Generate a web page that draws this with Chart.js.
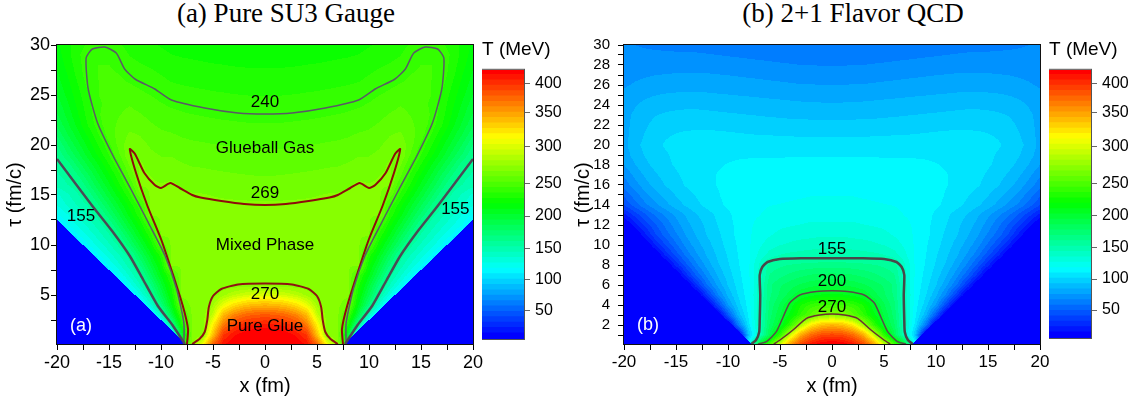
<!DOCTYPE html>
<html>
<head>
<meta charset="utf-8">
<script src="https://cdn.jsdelivr.net/npm/chart.js@4.4.0/dist/chart.umd.min.js"></script>
<style>
  body { margin: 0; background: #fff; width: 1140px; height: 405px; position: relative; overflow: hidden; }
  canvas { position: absolute; top: 0; }
  .ttl { position: absolute; top: -2px; font-family: "Liberation Serif", "Times New Roman", serif; font-size: 27px; white-space: nowrap; transform: translateX(-50%); color: #000; }
</style>
</head>
<body>
<div class="ttl" style="left:286px">(a) Pure SU3 Gauge</div>
<div class="ttl" style="left:853px">(b) 2+1 Flavor QCD</div>
<canvas id="heatA" width="490" height="405" style="left:0px"></canvas>
<canvas id="barA" width="90" height="405" style="left:482px"></canvas>
<canvas id="heatB" width="497" height="405" style="left:560px"></canvas>
<canvas id="barB" width="90" height="405" style="left:1049px"></canvas>
<script>
Chart.defaults.font.family = '"Liberation Sans", Arial, sans-serif';
Chart.defaults.color = '#000';

// colour scale: T (MeV) at equal steps of the colour bar
const colorLevels = [5, 59, 113, 166, 218, 270, 312, 365, 425];
const bandCount = 50;
const cbarTicks = [50, 100, 150, 200, 250, 300, 350, 400];

const xMajor = [-20, -15, -10, -5, 0, 5, 10, 15, 20];
const yMajorA = [5, 10, 15, 20, 25, 30];
const yMajorB = [2, 4, 6, 8, 10, 12, 14, 16, 18, 20, 22, 24, 26, 28, 30];

// light cone start |x| (fm) at tau = 0
const coneA = 7.5;
const coneB = 7.6;

// T (MeV) on a grid: rows tau = 0..30 fm/c, columns |x| = 0..20 fm
const tempA = [
  [432,431,429,425,415,378,310,272,230,100,0,0,0,0,0,0,0,0,0,0,0],
  [428,427,423,414,396,335,270,269.5,200,100,0,0,0,0,0,0,0,0,0,0,0],
  [410,408,402,390,365,315,269.5,269.5,226,155,100,0,0,0,0,0,0,0,0,0,0],
  [380,378,372,360,338,292,269.5,269.5,244,191,138,100,0,0,0,0,0,0,0,0,0],
  [340,338,333,322,305,280,269.5,269.5,264,210,169,132,100,0,0,0,0,0,0,0,0],
  [300,298,294,288,280,270,269.5,269.5,269.5,220,186,152,126,100,0,0,0,0,0,0,0],
  [271,271,270.4,269.9,269.5,269.5,269.5,269.5,269.5,229,198,167,143,122,100,0,0,0,0,0,0],
  [269.5,269.5,269.5,269.5,269.5,269.5,269.5,269.5,269.5,240,211,182,154,137,120,100,0,0,0,0,0],
  [269.5,269.5,269.5,269.5,269.5,269.5,269.5,269.5,269.5,269.5,221,195,168,148,133,119,100,0,0,0,0],
  [269.5,269.5,269.5,269.5,269.5,269.5,269.5,269.5,269.5,269.5,231,207,182,156,143,130,117,100,0,0,0],
  [269.5,269.5,269.5,269.5,269.5,269.5,269.5,269.5,269.5,269.5,252,220,197,174,154,141,129,117,100,0,0],
  [269.5,269.5,269.5,269.5,269.5,269.5,269.5,269.5,269.5,269.5,269.5,232,210,188,166,150,139,128,117,100,0],
  [269.5,269.5,269.5,269.5,269.5,269.5,269.5,269.5,269.5,269.5,269.5,245,221,201,180,159,147,137,127,117,100],
  [269.5,269.5,269.5,269.5,269.5,269.5,269.5,269.5,269.5,269.5,269.5,269,232,213,193,174,155,145,135,125,116],
  [269.4,269.4,269.5,269.5,269.5,269.5,269.5,269.5,269.5,269.5,269.5,269.5,240,222,204,186,168,152,144,135,126],
  [265.8,265.8,266.1,266.6,267.1,267.7,268.4,268.7,269.5,269.5,269.5,269.5,257,233,215,198,180,162,150,141,132],
  [262.6,262.6,263,263.4,263.9,264.5,265.1,265.5,267,269.5,268.4,269.5,269.3,243,225,208,191,174,157,151,146],
  [259.4,259.4,259.8,260.2,260.7,261.3,261.9,262.3,263.7,265.9,265.3,267.8,269.5,254,233,217,201,184,168,154,150],
  [256.3,256.3,256.6,257,257.5,258,258.7,259.1,260.4,262.4,262.2,264.6,269.5,261,242,226,210,195,179,163,153],
  [253.1,253.1,253.4,253.8,254.3,254.8,255.5,255.9,257.1,259,259.1,261.5,266.5,268.5,250.5,235,220,205,190,175,160],
  [249.9,249.9,250.2,250.6,251.1,251.6,252.2,252.7,253.8,255.5,256,258.4,262.8,265,255,241,227,213,198,184,167],
  [246.7,246.7,247,247.4,247.8,248.4,249,249.6,250.5,252.1,253,255.3,259.2,261,255,247,234,220,206,192,178],
  [243.5,243.5,243.8,244.2,244.6,245.2,245.8,246.4,247.3,248.6,249.9,252.2,255.6,257,253,248,240,227,213,199,186],
  [240.3,240.3,240.6,241,241.4,241.9,242.6,243.2,244,245.2,246.8,249,252,254,251,248,242,230,217,204,192],
  [237.3,237.3,237.6,237.9,238.4,238.8,239.4,240,241,242,243.7,246,248.3,251,249,246,241.5,232,220,208,196],
  [234.3,234.3,234.6,234.9,235.4,235.8,236.4,237,237.6,238.5,240.6,242.8,244.7,247,247,245,243,234,223,212,201],
  [231.3,231.3,231.6,231.9,232.4,232.8,233.4,234,234.6,235.5,237.6,239.7,241.5,243.5,245,244,243,237,226,215,205],
  [228.3,228.3,228.6,228.9,229.4,229.8,230.4,231,231.6,232.5,234.6,236.7,238.2,240,243,244,243,240.5,229,218,208],
  [225.3,225.3,225.6,225.9,226.4,226.8,227.4,228,228.6,229.5,231.6,233.7,235.2,237.3,241.5,243,243,241,231,221,211],
  [222.3,222.3,222.6,222.9,223.4,223.8,224.4,225,225.6,226.5,228.6,230.7,232.2,234.3,238.8,241.5,241.5,240,233,223,214],
  [219.3,219.3,219.6,219.9,220.4,220.8,221.4,222,222.6,223.5,225.6,227.7,229.2,231.3,235.8,239.4,239,236,231,224,216]
];

const tempB = [
  [432,428,415,390,355,300,251,203,118,0,0,0,0,0,0,0,0,0,0,0,0],
  [390,386,372,345,295,235,186,140,92,0,0,0,0,0,0,0,0,0,0,0,0],
  [340,335,318,282,239,200,177,140,106,61,0,0,0,0,0,0,0,0,0,0,0],
  [272,271,255,236,213,192,173,140,111,86,46,0,0,0,0,0,0,0,0,0,0],
  [244,243,238,226,204,186,170,140,113,96,73,38,0,0,0,0,0,0,0,0,0],
  [212,211,207,201,189,178,166,140,114,101,85,63,33,0,0,0,0,0,0,0,0],
  [193,192,190,186,181,175,166,138,115,104,92,76,57,30,0,0,0,0,0,0,0],
  [179,178,177,174,170,165,160,137,116,106,96,84,69,51,28,0,0,0,0,0,0],
  [164,164,163,162,160,158,155,135,116,108,99,90,78,64,46,25,0,0,0,0,0],
  [148,148,147,146,145,143,138,128,116,109,101,93,84,73,60,43,24,0,0,0,0],
  [140,140,139,138,136,134,130,124,116,110,103,96,88,79,69,55,40,22,0,0,0],
  [133,133,132,131,130,128,125,121,116,111,105,98,92,84,75,64,52,38,19,0,0],
  [127,127,127,126,125,124,122,119,116,111,106,100,94,87,80,70,59,47,33,17,0],
  [123,123,123,122,121,120,119,117,116,112,107,102,96,91,84,76,67,58,46,33,19],
  [119,119,119,118.5,118,117.5,117,116,115,113,110,107,103,98,93,87,80,72,63,52,40],
  [117,117,117,116.5,116,115.5,115,114.5,114,113,111,108,105,101,97,92,86,79,71,61,50],
  [115,115,115,115,114.5,114.5,114,113.5,113,112,111,109,107,104,101,97,92,86,79,70,60],
  [113,113,113,113,112.5,112.5,112,112,111.5,111,110,109,107,105,102,99,95,90,84,76,67],
  [111,111,111,111,111,110.5,110.5,110,110,109.5,109,108,107,105,103,101,98,94,89,82,74],
  [108,108,108,108,108,108,108,108,108,108,107.5,107,106,105,104,102,99,96,92,86,78],
  [104,104,104,104,104,104,104,104,104.5,104.5,105,105,105,104.5,104,103,101,98,94,88,80],
  [99,99,99,99,99.5,99.5,100,100,100.5,101,101.5,102,102,102,101.5,100.5,99,96,92,86,80],
  [94,94,94,94.5,94.5,95,95,95.5,96,96.5,97,97.5,98,98,98,97.5,96,94,90,85,80],
  [89,89,89,89.5,89.5,90,90.5,91,91.5,92,92.5,93,93.5,94,94,93.5,92.5,91,88,84,80],
  [84,84,84,84.5,85,85.5,86,86.5,87,87.5,88,88.5,89,89.5,89.5,89,88.5,87,85,82,78],
  [79,79,79.5,79.5,80,80.5,81,81.5,82,82.5,83,83.5,84,84.5,84.5,84,83.5,82.5,81,79,76],
  [74,74,74.5,74.5,75,75.5,76,76.5,77,77.5,78,78.5,79,79.5,79.5,79,78.5,78,77,75,73],
  [70,70,70,70.5,71,71.5,72,72.5,73,73.5,74,74.5,75,75,75,75,74.5,74,73,72,71],
  [65,65,65.5,65.5,66,66.5,67,67.5,68,68.5,69,69.5,70,70.5,70.5,70.5,70,70,69.5,69,68],
  [61,61,61.5,61.5,62,62.5,63,63.5,64,64.5,65,65.5,66,66.5,66.5,66.5,66.5,66.5,66.5,66.5,66.5],
  [57,57,57.5,57.5,58,58.5,59,59.5,60,60.5,61,61.5,62,62.5,63,63.5,64,64.5,65,65.5,66]
];

// contour lines, left half [x, tau], from the bottom to the centre line
const c155A = [[-7.7,0.1],[-8.9,2],[-10.3,3.9],[-11.7,6.5],[-13.0,8.9],[-14.7,11.4],[-16.6,13.9],[-20,18.6]];
const c240A = [[-7.8,0.1],[-7.8,2.2],[-8.5,5.6],[-9.6,8.9],[-11.2,12.2],[-12.9,15.6],[-14.6,18.9],[-16.1,22.2],
               [-17.0,25.6],[-17.2,28.7],[-16.6,29.6],[-15.4,29.8],[-14.3,29.2],[-13.5,27.6],[-12.5,26.6],
               [-10.6,25.6],[-9.0,24.5],[-5.8,23.7],[-2.6,23.2],[0,23.1]];
const c269A = [[-7.5,0.1],[-7.4,1.6],[-7.9,3.9],[-8.9,7.2],[-10.0,10.6],[-11.3,13.9],[-12.4,17.2],[-13.0,19.6],
               [-12.5,19.1],[-11.6,17.2],[-10.6,16.0],[-10.0,15.7],[-9.1,16.2],[-8.2,15.7],[-7.0,15.0],
               [-6.2,14.75],[-4.2,14.4],[-2.0,14.1],[0,14.0]];
const c270A = [[-7.0,0.1],[-6.3,0.6],[-5.8,1.3],[-5.55,2.5],[-5.4,3.8],[-5.0,4.9],[-4.2,5.6],[-2.6,6.05],[0,6.15]];

const c155B = [[-7.75,0.1],[-7.3,0.5],[-7.0,1.3],[-6.95,2.5],[-6.9,5],[-6.95,7.0],[-6.7,7.8],[-6.2,8.3],[-5.0,8.6],[-3.0,8.67],[0,8.67]];
const c200B = [[-7.1,0.1],[-6.3,0.33],[-5.35,1.33],[-4.7,2.8],[-4.07,4.2],[-3.1,5.0],[-1.5,5.35],[0,5.43]];
const c270B = [[-5.6,0.1],[-5.0,0.5],[-3.75,1.5],[-2.45,2.67],[-1.2,3.0],[0,3.1]];

// text in the plots [text, x, tau]
const numbersA = [['240', 0, 24.3], ['269', 0, 15.15], ['270', 0, 5.1], ['155', -17.7, 12.9], ['155', 18.3, 13.6]];
const phasesA = [['Glueball Gas', 0, 19.7], ['Mixed Phase', 0, 10.0], ['Pure Glue', 0, 1.9]];
const tagA = ['(a)', -17.7, 1.9];
const numbersB = [['155', 0, 9.6], ['200', 0, 6.35], ['270', 0, 3.8]];
const tagB = ['(b)', -17.7, 2.0];

function levelFrac(T) {
  const L = colorLevels, n = L.length - 1;
  if (T <= L[0]) return 0;
  if (T >= L[n]) return 1;
  let k = 0;
  while (T > L[k + 1]) k++;
  return (k + (T - L[k]) / (L[k + 1] - L[k])) / n;
}

function rainbow(f) {
  const s = f * 4, k = Math.min(Math.floor(s), 3), t = s - k;
  const v = Math.round(255 * t), w = 255 - v;
  return [[0, v, 255], [0, 255, w], [v, 255, 0], [255, w, 0]][k];
}

// first band pure blue, last band pure red
function bandColor(b) {
  return rainbow(b / (bandCount - 1));
}

function colorFor(T) {
  const b = Math.min(Math.floor(levelFrac(T) * bandCount), bandCount - 1);
  return bandColor(b);
}

function fieldAt(grid, cone, xv, tau) {
  const ax = Math.abs(xv);
  if (ax > cone + tau) return 0;
  const j0 = Math.min(Math.floor(tau), grid.length - 2), fy = Math.min(tau - j0, 1);
  const i0 = Math.min(Math.floor(ax), grid[0].length - 2), fx = Math.min(ax - i0, 1);
  const r0 = grid[j0], r1 = grid[j0 + 1];
  return (r0[i0] * (1 - fx) + r0[i0 + 1] * fx) * (1 - fy) + (r1[i0] * (1 - fx) + r1[i0 + 1] * fx) * fy;
}

function mirrored(half) {
  const back = half.slice(0, -1).reverse().map(([x, y]) => [-x, y]);
  return half.concat(back).map(([x, y]) => ({x, y}));
}
const pts = arr => arr.map(([x, y]) => ({x, y}));
const flip = arr => arr.map(([x, y]) => ({x: -x, y}));

function withMinor(majors, half, min) {
  const out = [];
  majors.forEach(m => {
    if (m - half >= min) out.push(m - half);
    out.push(m);
  });
  return out;
}

const heatmapPlugin = (grid, cone) => ({
  id: 'heatmap',
  beforeDatasetsDraw(chart) {
    const {ctx, chartArea: a, scales: {x, y}} = chart;
    const w = Math.round(a.right - a.left), h = Math.round(a.bottom - a.top);
    const off = document.createElement('canvas');
    off.width = w; off.height = h;
    const octx = off.getContext('2d');
    const img = octx.createImageData(w, h);
    for (let j = 0; j < h; j++) {
      const tau = y.getValueForPixel(a.top + j + 0.5);
      for (let i = 0; i < w; i++) {
        const c = colorFor(fieldAt(grid, cone, x.getValueForPixel(a.left + i + 0.5), tau));
        const k = (j * w + i) * 4;
        img.data[k] = c[0]; img.data[k + 1] = c[1]; img.data[k + 2] = c[2]; img.data[k + 3] = 255;
      }
    }
    octx.putImageData(img, 0, 0);
    ctx.drawImage(off, a.left, a.top);
  }
});

const framePlugin = color => ({
  id: 'frame',
  afterDatasetsDraw(chart) {
    const {ctx, chartArea: a} = chart;
    ctx.save();
    ctx.strokeStyle = color;
    ctx.lineWidth = 1;
    ctx.strokeRect(a.left - 0.5, a.top - 0.5, a.right - a.left + 1, a.bottom - a.top + 1);
    ctx.restore();
  }
});

const notesPlugin = (texts, tag) => ({
  id: 'notes',
  afterDatasetsDraw(chart) {
    const {ctx, scales: {x, y}} = chart;
    ctx.save();
    ctx.textAlign = 'center';
    ctx.textBaseline = 'middle';
    ctx.fillStyle = '#000';
    ctx.font = '17px "Liberation Sans", Arial, sans-serif';
    texts.forEach(([t, xv, yv]) => ctx.fillText(t, x.getPixelForValue(xv), y.getPixelForValue(yv)));
    ctx.fillStyle = '#fff';
    ctx.font = '18px "Liberation Sans", Arial, sans-serif';
    ctx.fillText(tag[0], x.getPixelForValue(tag[1]), y.getPixelForValue(tag[2]));
    ctx.restore();
  }
});

function line(data, color, width) {
  return {data, borderColor: color, borderWidth: width, showLine: true, pointRadius: 0, tension: 0.2, fill: false};
}

function heatChart(id, opts) {
  const xTicks = withMinor(xMajor, 2.5, -20);
  const yTicks = withMinor(opts.yMajor, opts.yHalf, 0.1);
  return new Chart(document.getElementById(id), {
    type: 'scatter',
    data: {datasets: opts.lines},
    options: {
      responsive: false,
      animation: false,
      events: [],
      layout: {padding: {left: 0, top: 45, right: opts.padRight, bottom: 0}},
      plugins: {legend: {display: false}, tooltip: {enabled: false}},
      scales: {
        x: {
          type: 'linear', min: -20, max: 20,
          afterBuildTicks: s => { s.ticks = xTicks.map(v => ({value: v})); },
          afterFit: s => { s.height = 61; },
          ticks: {callback: v => (xMajor.includes(v) ? v : ''), font: {size: opts.xFont}, padding: 2, autoSkip: false, maxRotation: 0},
          grid: {display: true, drawOnChartArea: false, tickLength: 6, color: '#000'},
          border: {display: false},
          title: {display: true, text: 'x (fm)', font: {size: 20}, padding: {top: 0, bottom: 7}}
        },
        y: {
          type: 'linear', min: 0.1, max: 30,
          afterBuildTicks: s => { s.ticks = yTicks.map(v => ({value: v})); },
          afterFit: s => { s.width = opts.yWidth; },
          ticks: {callback: v => (opts.yMajor.includes(v) ? v : ''), font: {size: opts.yFont}, padding: opts.yPad, autoSkip: false},
          grid: {display: true, drawOnChartArea: false, tickLength: 6, color: '#000'},
          border: {display: false},
          title: {display: true, text: 'τ (fm/c)', font: {size: 20}, padding: {top: opts.yTitlePad, bottom: 0}}
        }
      }
    },
    plugins: [heatmapPlugin(opts.grid, opts.cone), notesPlugin(opts.texts, opts.tag), framePlugin('#111')]
  });
}

function barChart(id, bottomPad) {
  const datasets = [];
  for (let b = 0; b < bandCount; b++) {
    const c = bandColor(b);
    const hi = (b + 1) / bandCount + (b < bandCount - 1 ? 0.003 : 0);
    datasets.push({data: [[b / bandCount, hi]], backgroundColor: `rgb(${c[0]},${c[1]},${c[2]})`, borderWidth: 0});
  }
  return new Chart(document.getElementById(id), {
    type: 'bar',
    data: {labels: [''], datasets},
    options: {
      responsive: false,
      animation: false,
      events: [],
      layout: {padding: {left: 0, right: 0, top: 0, bottom: bottomPad}},
      datasets: {bar: {grouped: false, barPercentage: 1, categoryPercentage: 1}},
      plugins: {
        legend: {display: false},
        tooltip: {enabled: false},
        title: {display: true, text: 'T (MeV)', align: 'start', font: {size: 19, weight: 'normal'}, color: '#000', padding: {top: 38, bottom: 9}}
      },
      scales: {
        x: {display: false},
        y: {
          position: 'right', min: 0, max: 1,
          afterBuildTicks: s => { s.ticks = cbarTicks.map(t => ({value: levelFrac(t)})); },
          afterFit: s => { s.width = 48; },
          ticks: {callback: (v, i) => cbarTicks[i], font: {size: 16}, padding: 5, autoSkip: false},
          grid: {display: true, drawOnChartArea: false, tickLength: 6, color: '#666'},
          border: {display: false}
        }
      }
    },
    plugins: [framePlugin('#555')]
  });
}

heatChart('heatA', {
  grid: tempA, cone: coneA, yMajor: yMajorA, yHalf: 2.5, yWidth: 57, yFont: 18, yPad: 1, yTitlePad: 3,
  xFont: 18, padRight: 17,
  texts: numbersA.concat(phasesA), tag: tagA,
  lines: [
    line(pts(c155A), '#4b4b55', 2.5),
    line(flip(c155A), '#4b4b55', 2.5),
    line(mirrored(c240A), '#5a5a66', 1.5),
    line(mirrored(c269A), '#8e0b0b', 2),
    line(mirrored(c270A), '#8e1212', 2)
  ]
});

heatChart('heatB', {
  grid: tempB, cone: coneB, yMajor: yMajorB, yHalf: 1, yWidth: 64, yFont: 15, yPad: 8, yTitlePad: 11,
  xFont: 17, padRight: 17,
  texts: numbersB, tag: tagB,
  lines: [
    line(mirrored(c155B), '#484848', 2.5),
    line(mirrored(c200B), '#5a4a4a', 1.5),
    line(mirrored(c270B), '#6b3030', 1.5)
  ]
});

barChart('barA', 66);
barChart('barB', 67);
</script>
</body>
</html>
